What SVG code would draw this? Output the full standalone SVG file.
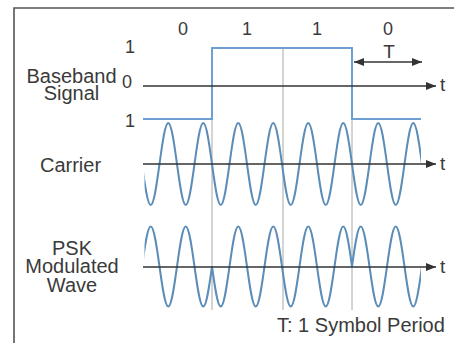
<svg xmlns="http://www.w3.org/2000/svg" width="454" height="343" viewBox="0 0 454 343">
<style>
text{font-family:"Liberation Sans",Arial,sans-serif;fill:#3a3a3a}
.lbl{font-size:20px;text-anchor:middle}
.dig{font-size:18px;text-anchor:middle}
.ax{stroke:#333;stroke-width:1.4;fill:none}
.grid{stroke:#a8a8a8;stroke-width:1;fill:none}
.wave{stroke:#5b8db8;stroke-width:2;fill:none}
.step{stroke:#6d9fd3;stroke-width:2;fill:none}
</style>
<defs>
<marker id="ah" viewBox="0 0 10 8" refX="10" refY="4" markerWidth="10" markerHeight="8" markerUnits="userSpaceOnUse" orient="auto-start-reverse">
<path d="M0,0 L10,4 L0,8 Z" fill="#333"/>
</marker>
<clipPath id="wc"><rect x="144.5" y="0" width="276.5" height="343"/></clipPath>
</defs>
<rect width="454" height="343" fill="#fff"/>
<path d="M14,343 V8 H454" fill="none" stroke="#555" stroke-width="1.6"/>

<g id="grid-lines">
<line class="grid" x1="212" y1="119" x2="212" y2="310"/>
<line class="grid" x1="283" y1="48" x2="283" y2="310"/>
<line class="grid" x1="352" y1="119" x2="352" y2="310"/>
</g>

<g id="baseband">
<text class="lbl" x="71.5" y="83">Baseband</text>
<text class="lbl" x="71.5" y="100">Signal</text>
<text class="dig" x="130" y="53">1</text>
<text class="dig" x="127" y="88">0</text>
<text class="dig" x="130" y="127">1</text>
<path class="step" d="M143,119 H212 V48 H352 V119 H421"/>
</g>

<g id="bits">
<text class="dig" x="183" y="35">0</text>
<text class="dig" x="247" y="35">1</text>
<text class="dig" x="317" y="35">1</text>
<text class="dig" x="388" y="35">0</text>
<text class="dig" x="389" y="58" style="font-size:19px">T</text>
</g>

<g id="carrier">
<text class="lbl" x="70.5" y="171.5">Carrier</text>
<path class="wave" clip-path="url(#wc)" d="M142,164
c2.853,21 5.583,41 8.75,41 c3.167,0 5.897,-20 8.75,-41 c2.853,-21 5.583,-41 8.75,-41 c3.167,0 5.897,20 8.75,41
c2.853,21 5.583,41 8.75,41 c3.167,0 5.897,-20 8.75,-41 c2.853,-21 5.583,-41 8.75,-41 c3.167,0 5.897,20 8.75,41
c2.853,21 5.583,41 8.75,41 c3.167,0 5.897,-20 8.75,-41 c2.853,-21 5.583,-41 8.75,-41 c3.167,0 5.897,20 8.75,41
c2.853,21 5.583,41 8.75,41 c3.167,0 5.897,-20 8.75,-41 c2.853,-21 5.583,-41 8.75,-41 c3.167,0 5.897,20 8.75,41
c2.853,21 5.583,41 8.75,41 c3.167,0 5.897,-20 8.75,-41 c2.853,-21 5.583,-41 8.75,-41 c3.167,0 5.897,20 8.75,41
c2.853,21 5.583,41 8.75,41 c3.167,0 5.897,-20 8.75,-41 c2.853,-21 5.583,-41 8.75,-41 c3.167,0 5.897,20 8.75,41
c2.853,21 5.583,41 8.75,41 c3.167,0 5.897,-20 8.75,-41 c2.853,-21 5.583,-41 8.75,-41 c3.167,0 5.897,20 8.75,41
c2.853,21 5.583,41 8.75,41 c3.167,0 5.897,-20 8.75,-41 c2.853,-21 5.583,-41 8.75,-41 c3.167,0 5.897,20 8.75,41"/>
</g>

<g id="psk">
<text class="lbl" x="72" y="255">PSK</text>
<text class="lbl" x="72" y="273">Modulated</text>
<text class="lbl" x="72" y="291.5">Wave</text>
<path class="wave" clip-path="url(#wc)" d="M142,266.5
c2.853,-20.5 5.583,-40 8.75,-40 c3.167,0 5.897,19.5 8.75,40 c2.853,20.5 5.583,40 8.75,40 c3.167,0 5.897,-19.5 8.75,-40
c2.853,-20.5 5.583,-40 8.75,-40 c3.167,0 5.897,19.5 8.75,40 c2.853,20.5 5.583,40 8.75,40 c3.167,0 5.897,-19.5 8.75,-40
c2.853,20.5 5.583,40 8.75,40 c3.167,0 5.897,-19.5 8.75,-40 c2.853,-20.5 5.583,-40 8.75,-40 c3.167,0 5.897,19.5 8.75,40
c2.853,20.5 5.583,40 8.75,40 c3.167,0 5.897,-19.5 8.75,-40 c2.853,-20.5 5.583,-40 8.75,-40 c3.167,0 5.897,19.5 8.75,40
c2.853,20.5 5.583,40 8.75,40 c3.167,0 5.897,-19.5 8.75,-40 c2.853,-20.5 5.583,-40 8.75,-40 c3.167,0 5.897,19.5 8.75,40
c2.853,20.5 5.583,40 8.75,40 c3.167,0 5.897,-19.5 8.75,-40 c2.853,-20.5 5.583,-40 8.75,-40 c3.167,0 5.897,19.5 8.75,40
c2.853,-20.5 5.583,-40 8.75,-40 c3.167,0 5.897,19.5 8.75,40 c2.853,20.5 5.583,40 8.75,40 c3.167,0 5.897,-19.5 8.75,-40
c2.853,-20.5 5.583,-40 8.75,-40 c3.167,0 5.897,19.5 8.75,40 c2.853,20.5 5.583,40 8.75,40 c3.167,0 5.897,-19.5 8.75,-40"/>
<text x="277" y="331.5" style="font-size:20px">T: 1 Symbol Period</text>
</g>

<g id="connectors">
<line class="ax" x1="143" y1="86" x2="436" y2="86" marker-end="url(#ah)"/>
<line class="ax" x1="143" y1="164" x2="436" y2="164" marker-end="url(#ah)"/>
<line class="ax" x1="143" y1="267" x2="436" y2="267" marker-end="url(#ah)"/>
<line class="ax" x1="354" y1="62" x2="422" y2="62" marker-start="url(#ah)" marker-end="url(#ah)"/>
<text x="440" y="91" style="font-size:19px">t</text>
<text x="440" y="170" style="font-size:19px">t</text>
<text x="440" y="273" style="font-size:19px">t</text>
</g>
</svg>
